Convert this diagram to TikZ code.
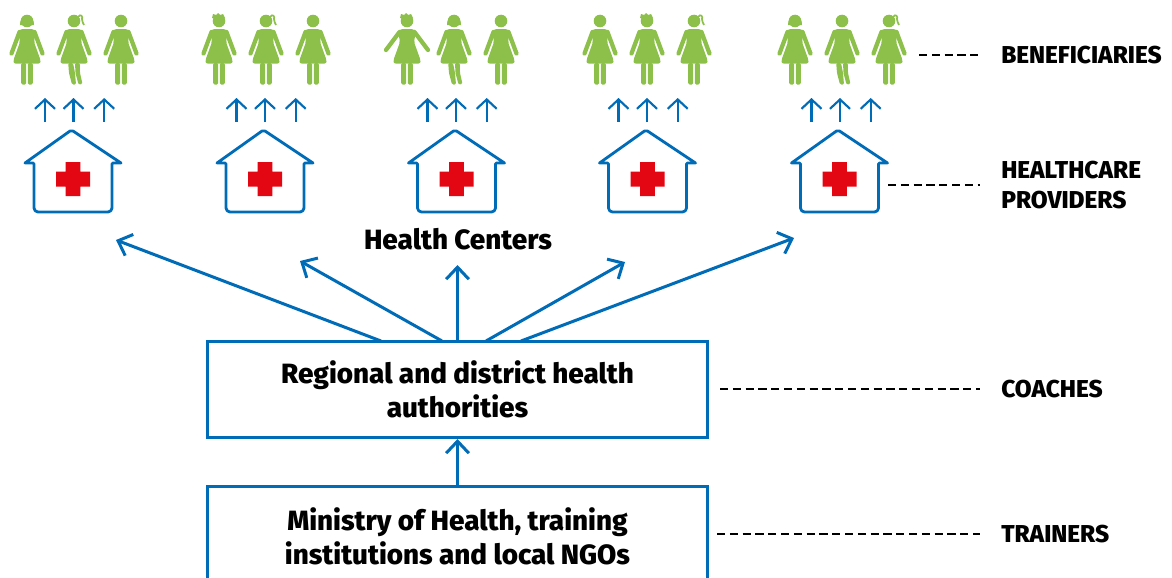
\documentclass[tikz,border=0pt]{standalone}
\usepackage{fontspec}
\setmainfont{Fira Sans}[BoldFont={Fira Sans ExtraBold}]
\usetikzlibrary{arrows.meta}
\definecolor{linkblue}{RGB}{0,107,182}
\definecolor{crossred}{RGB}{227,6,19}
\definecolor{womangreen}{RGB}{140,192,74}
% woman: #1 centre x, #2 arms, #3 legs, #4 hair
\newcommand{\womanfig}[4]{
	\begin{scope}[shift={(#1,0)}]
		\fill[womangreen] (0,21) circle (6.3);
		\fill[womangreen,rounded corners=1.5] (-6.5,29) -- (6.5,29) -- (9,31) -- (7,42) -- (13.5,60) -- (13.5,63.5) -- (-13.5,63.5) -- (-13.5,60) -- (-7,42) -- (-9,31) -- cycle;
		#2
		#3
		#4
	\end{scope}
}
\newcommand{\narrowarms}{\draw[womangreen,line width=3.2pt,line cap=round] (-7.5,32) -- (-15.5,53.5) (7.5,32) -- (15.5,53.5);}
\newcommand{\widearms}{\draw[womangreen,line width=3.2pt,line cap=round] (-7.5,32) -- (-21,50) (7.5,32) -- (21,50);}
\newcommand{\straightlegs}{\fill[womangreen,rounded corners=1] (-5.8,63) -- (-0.9,63) -- (-0.9,84.5) -- (-5.8,84.5) -- cycle (0.9,63) -- (5.8,63) -- (5.8,84.5) -- (0.9,84.5) -- cycle;}
\newcommand{\bentlegs}{\fill[womangreen,rounded corners=1] (-5.8,63) -- (-1,63) -- (1,73) -- (2,84.5) -- (-2,84.5) -- (-5,73) -- cycle (1,63) -- (5.8,63) -- (6,73) -- (8.5,84) -- (4.5,84.5) -- (1.5,73) -- cycle;}
\newcommand{\bobhair}{\fill[womangreen] (-7,25) .. controls (-8,14) and (8,14) .. (7,25) -- cycle;}
\newcommand{\ponyhair}{\draw[womangreen,line width=1.3] (4,17) .. controls (7,13) and (9,17) .. (8,19) .. controls (8,21) and (9,23) .. (10,25);}
\newcommand{\spikyhair}{\fill[womangreen] (-7,18) -- (-6,14) -- (-3,15) -- (-1,13) -- (1,15) -- (4,14) -- (6,18) -- cycle;}
\newcommand{\nohair}{}
% house with cross, #1 centre x
\newcommand{\housefig}[1]{
	\begin{scope}[shift={(#1,0)}]
		\draw[housestyle] (-48,163) -- (-3,131) arc (120:60:3) -- (48,163) -- (40,163) -- (39,164) -- (39,208) arc (0:90:4) -- (-35,212) arc (90:180:4) -- (-39,164) -- (-40,163) -- cycle;
		\fill[crossred] (-7.3,162) -- (7.3,162) -- (7.3,171.5) -- (17,171.5) -- (17,186.5) -- (7.3,186.5) -- (7.3,196) -- (-7.3,196) -- (-7.3,186.5) -- (-17,186.5) -- (-17,171.5) -- (-7.3,171.5) -- cycle;
	\end{scope}
}
\begin{document}
\begin{tikzpicture}[x=0.75pt,y=-0.75pt]
	\tikzstyle{box}=[draw=linkblue,line width=2.25pt,minimum width=375pt,align=center,font=\fontsize{20.9}{25.5}\selectfont\bfseries]
	\tikzstyle{rolelabel}=[anchor=west,align=left,inner xsep=15.75pt,inner ysep=0pt,font=\fontsize{18.3}{21.9}\selectfont\bfseries]
	\tikzstyle{housestyle}=[draw=linkblue,line width=2.1pt,line join=round]
	\tikzstyle{bigarrow}=[draw=linkblue,line width=2.25pt,-{Straight Barb[length=9pt,width=17pt]}]
	\tikzstyle{smallarrow}=[draw=linkblue,line width=1.6pt,-{Straight Barb[length=7pt,width=15pt]}]
	\tikzstyle{dashline}=[line width=1.7pt,dash pattern=on 6.2pt off 3.4pt]
	\useasboundingbox (0,0) rectangle (1172,578);

	\foreach \x in {73,265,456.5,647.5,839.5} {\housefig{\x}}

	\womanfig{27}{\narrowarms}{\straightlegs}{\bobhair}
	\womanfig{74}{\narrowarms}{\bentlegs}{\ponyhair}
	\womanfig{121}{\narrowarms}{\straightlegs}{\nohair}
	\womanfig{219}{\narrowarms}{\straightlegs}{\spikyhair}
	\womanfig{266}{\narrowarms}{\straightlegs}{\ponyhair}
	\womanfig{313}{\narrowarms}{\straightlegs}{\nohair}
	\womanfig{407}{\widearms}{\straightlegs}{\spikyhair}
	\womanfig{454}{\narrowarms}{\bentlegs}{\bobhair}
	\womanfig{501}{\narrowarms}{\straightlegs}{\nohair}
	\womanfig{600}{\narrowarms}{\straightlegs}{\nohair}
	\womanfig{647}{\narrowarms}{\straightlegs}{\spikyhair}
	\womanfig{694}{\narrowarms}{\straightlegs}{\ponyhair}
	\womanfig{795}{\narrowarms}{\straightlegs}{\bobhair}
	\womanfig{842}{\narrowarms}{\bentlegs}{\nohair}
	\womanfig{889}{\narrowarms}{\straightlegs}{\ponyhair}

	\foreach \x [count=\i] in {73.5,265,456,647,840} {
		\foreach \dx [count=\j] in {-28.5,0,30.7} {
			\coordinate (from\i\j) at (\x+\dx,122);
			\coordinate (to\i\j) at (\x+\dx,98);
			\draw[smallarrow] (from\i\j) -- (to\i\j);
		}
	}

	\node[box,minimum height=72pt] (regional) at (457.5,389.5) {Regional and district health\\authorities};
	\node[box,minimum height=75pt] (ministry) at (457.5,536) {Ministry of Health, training\\institutions and local NGOs};
	\node[inner sep=0pt,font=\fontsize{20.9}{24}\selectfont\bfseries] (centers) at (458,239.5) {Health Centers};

	\coordinate (tip1) at (116,240);
	\coordinate (tip2) at (300,261);
	\coordinate (tip3) at (457.5,265);
	\coordinate (tip4) at (625,262);
	\coordinate (tip5) at (794,238);
	\coordinate (foot1) at (381,341);
	\coordinate (foot2) at (442,341);
	\coordinate (foot4) at (486,341);
	\coordinate (foot5) at (521,341);
	\draw[bigarrow] (foot1) -- (tip1);
	\draw[bigarrow] (foot2) -- (tip2);
	\draw[bigarrow] (regional.north) -- (tip3);
	\draw[bigarrow] (foot4) -- (tip4);
	\draw[bigarrow] (foot5) -- (tip5);
	\draw[bigarrow] (ministry.north) -- (regional.south);

	\node[rolelabel] (beneficiaries) at (980,55) {BENEFICIARIES};
	\node[rolelabel] (providers) at (980,185) {HEALTHCARE\\PROVIDERS};
	\node[rolelabel] (coaches) at (980,389) {COACHES};
	\node[rolelabel] (trainers) at (980,534) {TRAINERS};
	\coordinate (dash1) at (919,55);
	\coordinate (dash2) at (888,185);
	\coordinate (dash3) at (720,389);
	\coordinate (dash4) at (717,534);
	\draw[dashline] (dash1) -- (beneficiaries.west);
	\draw[dashline] (dash2) -- (providers.west);
	\draw[dashline] (dash3) -- (coaches.west);
	\draw[dashline] (dash4) -- (trainers.west);
\end{tikzpicture}
\end{document}
